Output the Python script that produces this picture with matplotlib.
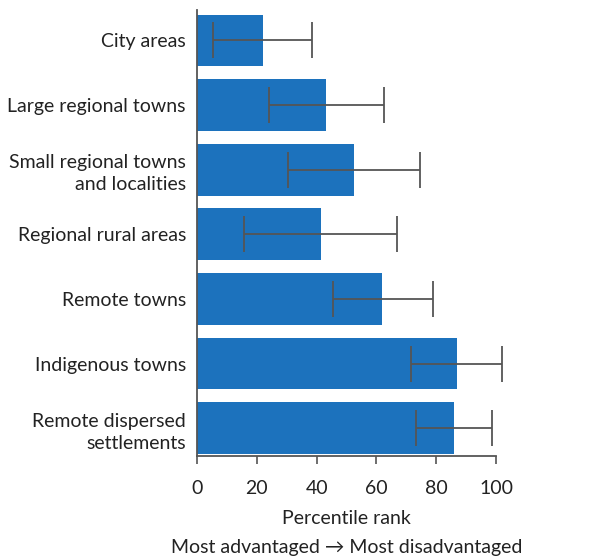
import numpy as np
import matplotlib.pyplot as plt
from matplotlib.transforms import blended_transform_factory

plt.rcParams['font.family'] = ['Lato', 'DejaVu Sans']

categories = [
    "City areas",
    "Large regional towns",
    "Small regional towns\nand localities",
    "Regional rural areas",
    "Remote towns",
    "Indigenous towns",
    "Remote dispersed\nsettlements",
]
rank = [22, 43, 52.5, 41.4, 62, 86.8, 86]
err_low = [5.5, 24, 30.3, 15.6, 45.4, 71.6, 73.2]
err_high = [38.6, 62.4, 74.6, 67, 78.8, 101.9, 98.8]

bar_color = "#1c72bd"
grey = "#555555"
text_color = "#222222"
fs = 14

fig = plt.figure(figsize=(5.89, 5.56), dpi=100)
ax = fig.add_axes([197 / 589, 1 - 456 / 556, 314 / 589, 446 / 556])

y = np.arange(len(categories))
rank = np.array(rank)
xerr = [rank - np.array(err_low), np.array(err_high) - rank]

ax.barh(y, rank, height=0.8, color=bar_color, edgecolor="none")
ax.errorbar(rank, y, xerr=xerr, fmt="none", ecolor=grey,
            elinewidth=1.3, capsize=13, capthick=1.3)

ax.set_xlim(0, 105)
ax.set_ylim(6.43, -0.47)
ax.set_yticks(y)
ax.set_yticklabels(categories, fontsize=fs, color=text_color, linespacing=1.35)
ax.set_xticks([0, 20, 40, 60, 80, 100])
ax.tick_params(axis="x", labelsize=fs, colors=grey, labelcolor=text_color,
               length=6, width=1.2, pad=11)
ax.tick_params(axis="y", length=0, pad=8)

for side in ["top", "right"]:
    ax.spines[side].set_visible(False)
ax.spines["bottom"].set_bounds(0, 100)
for side in ["left", "bottom"]:
    ax.spines[side].set_color(grey)
    ax.spines[side].set_linewidth(1.3)

trans = blended_transform_factory(ax.transData, fig.transFigure)
ax.text(50, 1 - 519 / 556, "Percentile rank", transform=trans,
        ha="center", va="center", fontsize=fs, color=text_color)
ax.text(50, 1 - 547 / 556, "Most advantaged \u2192 Most disadvantaged",
        transform=trans, ha="center", va="center", fontsize=fs,
        color=text_color)

fig.savefig("out.png", dpi=100)
